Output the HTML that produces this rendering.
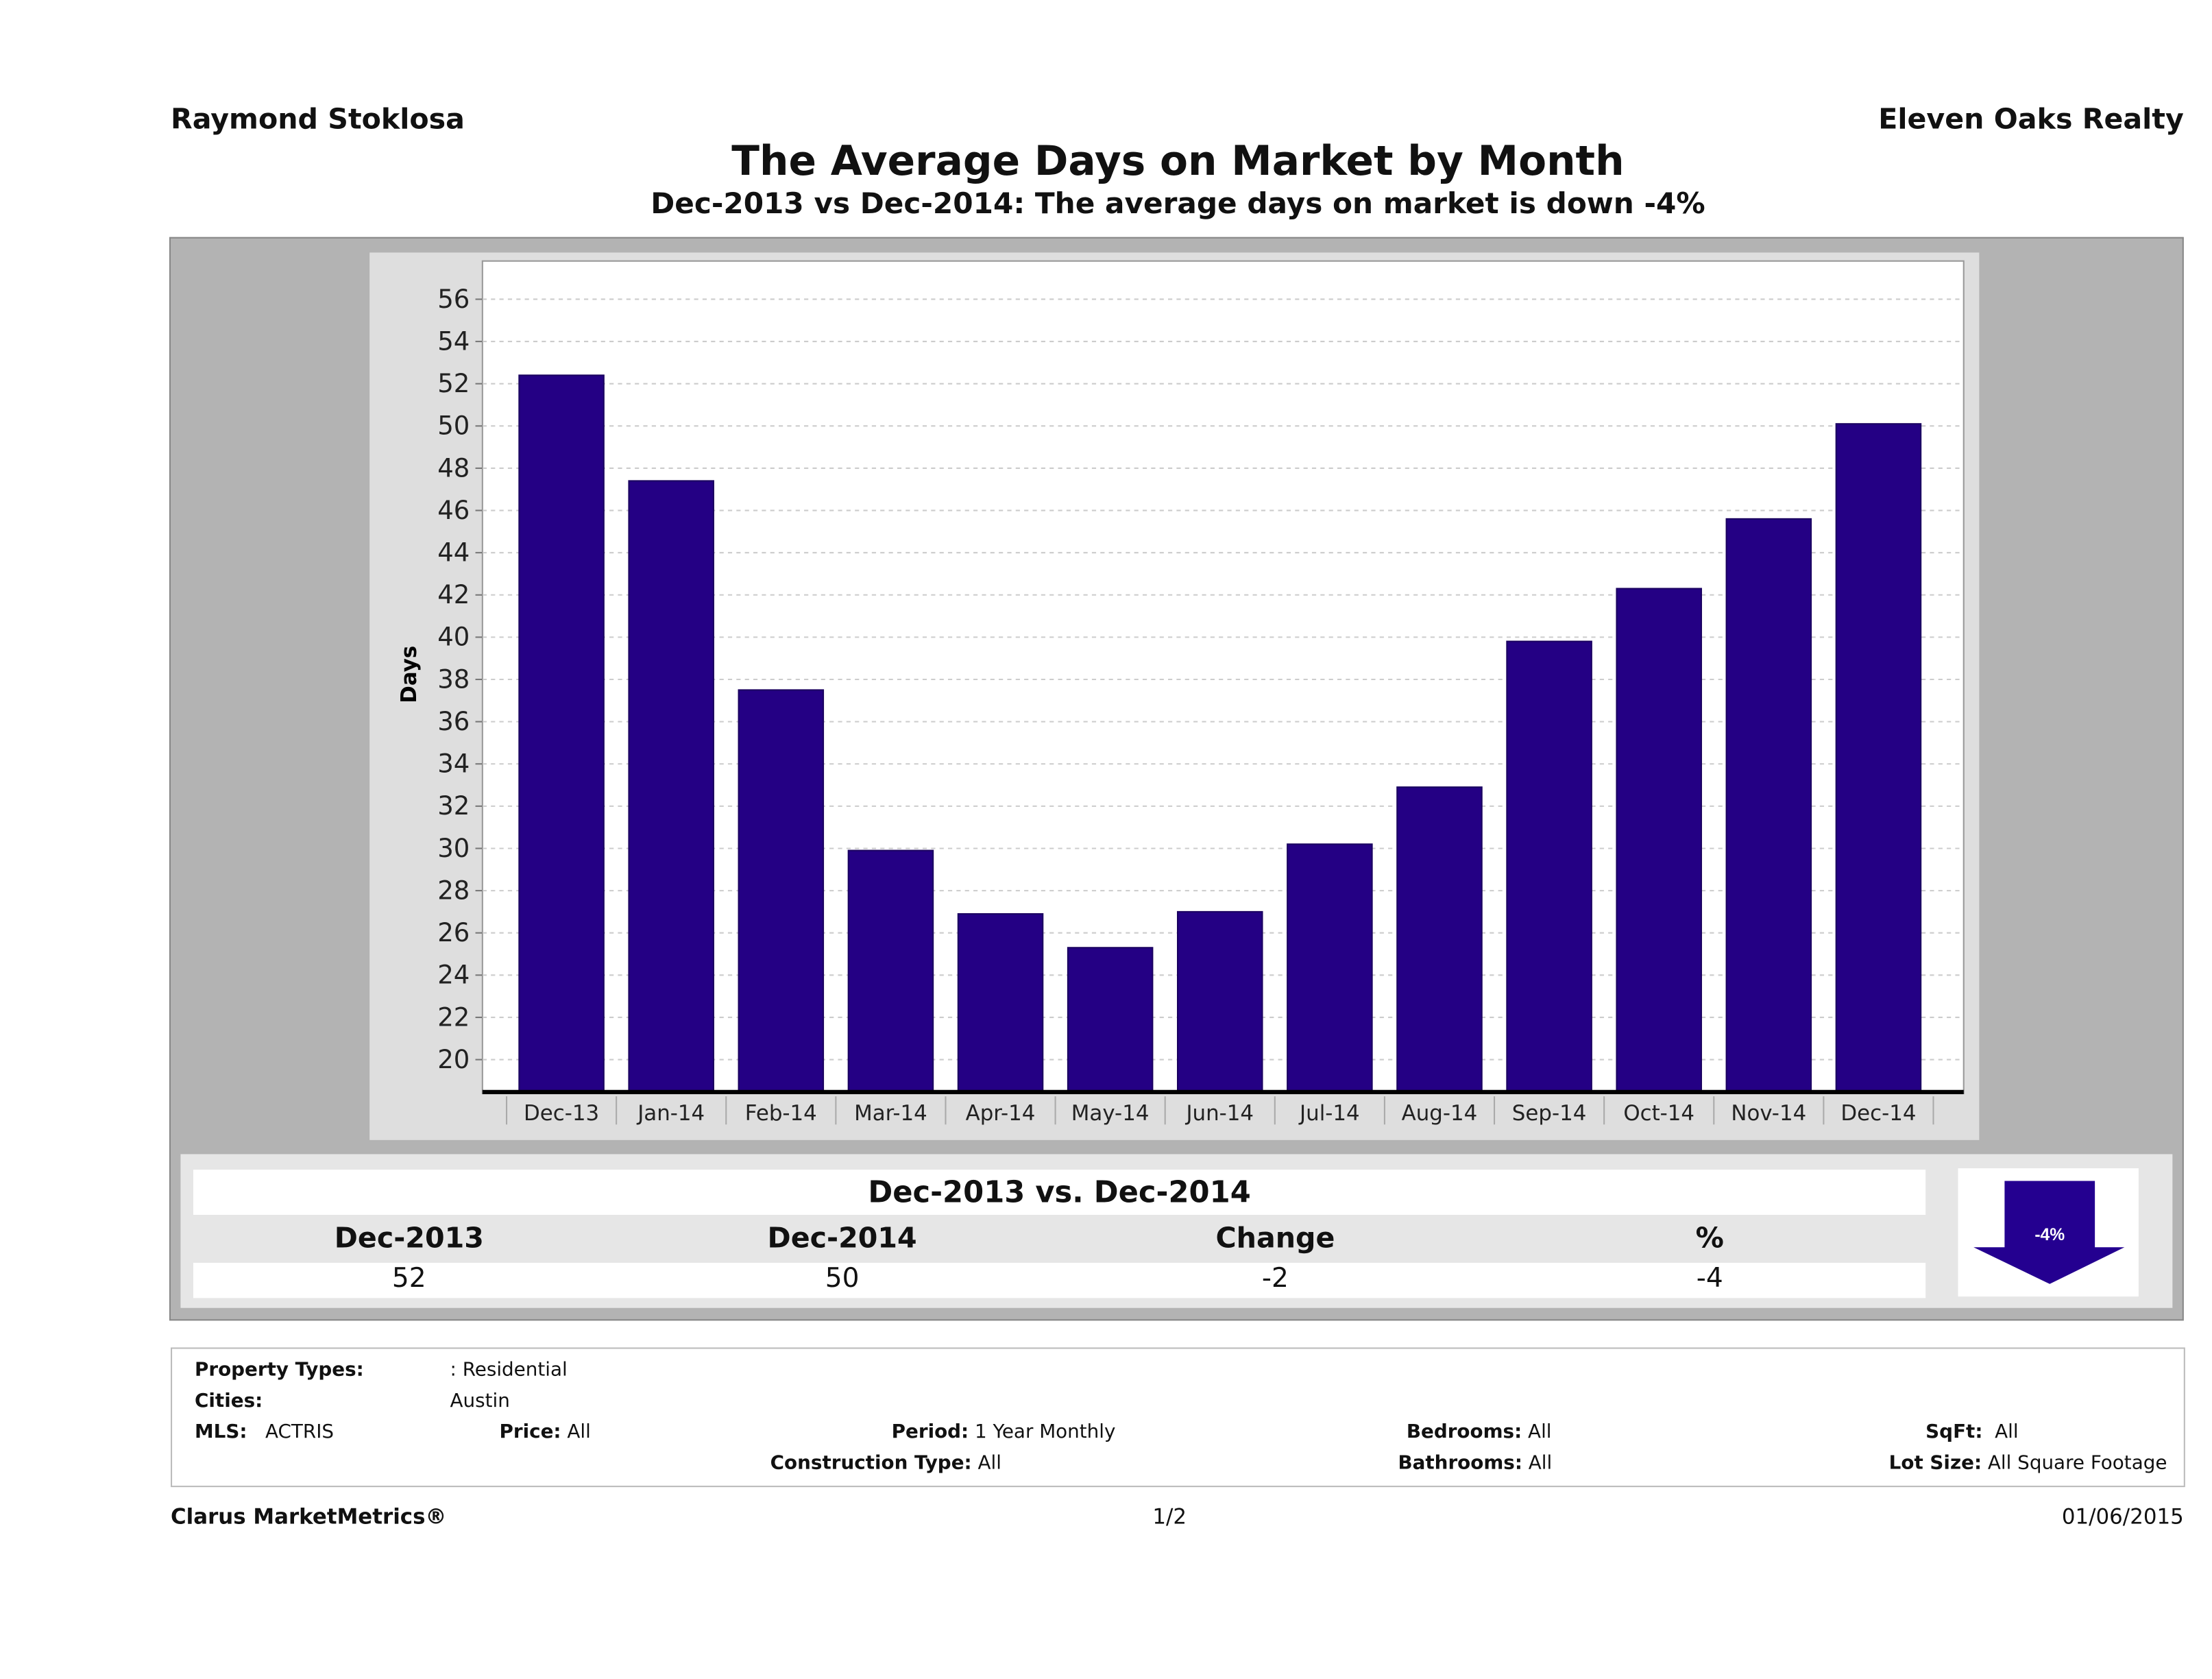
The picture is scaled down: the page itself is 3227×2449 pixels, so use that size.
<!DOCTYPE html>
<html><head><meta charset="utf-8"><style>
html,body{margin:0;padding:0;background:#fff;}
body{width:3227px;height:2448px;overflow:hidden;position:relative;}
#s{position:absolute;left:0;top:0;width:1568px;height:1190px;transform:scale(2.058);transform-origin:0 0;font-family:"DejaVu Sans","Liberation Sans",sans-serif;color:#111;}
.a{position:absolute;white-space:nowrap;}
.b{font-weight:bold;}
</style></head><body><div id="s">
<div class="a b" style="left:121px;top:72px;font-size:20px">Raymond Stoklosa</div>
<div class="a b" style="right:20px;top:72px;font-size:20px">Eleven Oaks Realty</div>
<div class="a b" style="left:0;width:1670px;text-align:center;top:97px;font-size:29px">The Average Days on Market by Month</div>
<div class="a b" style="left:0;width:1670px;text-align:center;top:132px;font-size:20.5px">Dec-2013 vs Dec-2014: The average days on market is down -4%</div>
<div class="a" style="left:120px;top:168px;width:1426px;height:766px;background:#b3b3b3;border:1px solid #888"></div>
<svg class="a" style="left:0;top:0" width="1568" height="1190">
<rect x="262" y="179" width="1141" height="629" fill="#dedede"/>
<rect x="342" y="185" width="1050" height="590" fill="#fff" stroke="#999"/>
<g id="grid"></g><g id="bars"></g><g id="xl"></g>
<text x="295" y="478" transform="rotate(-90 295 478)" font-size="15" font-weight="bold" text-anchor="middle" font-family="DejaVu Sans,sans-serif">Days</text>
<line x1="342" y1="774" x2="1392" y2="774" stroke="#000" stroke-width="3"/>
</svg>
<div class="a" style="left:128px;top:818px;width:1412px;height:109px;background:#e6e6e6"></div>
<div class="a b" style="left:137px;top:829px;width:1228px;height:32px;background:#fff;text-align:center;line-height:32px;font-size:21px">Dec-2013 vs. Dec-2014</div>
<div class="a" style="left:137px;top:895px;width:1228px;height:25px;background:#fff"></div>
<div class="a b" style="left:190px;width:200px;text-align:center;top:865px;font-size:20px">Dec-2013</div>
<div class="a b" style="left:497px;width:200px;text-align:center;top:865px;font-size:20px">Dec-2014</div>
<div class="a b" style="left:804px;width:200px;text-align:center;top:865px;font-size:20px">Change</div>
<div class="a b" style="left:1112px;width:200px;text-align:center;top:865px;font-size:20px">%</div>
<div class="a" style="left:190px;width:200px;text-align:center;top:895px;font-size:19px">52</div>
<div class="a" style="left:497px;width:200px;text-align:center;top:895px;font-size:19px">50</div>
<div class="a" style="left:804px;width:200px;text-align:center;top:895px;font-size:19px">-2</div>
<div class="a" style="left:1112px;width:200px;text-align:center;top:895px;font-size:19px">-4</div>
<svg class="a" style="left:1388px;top:828px" width="128" height="91">
<rect width="128" height="91" fill="#fff"/>
<polygon points="33,9 97,9 97,56 118,56 65,82 11,56 33,56" fill="#240090"/>
<text x="65" y="51" fill="#fff" font-size="12" font-weight="bold" text-anchor="middle" font-family="Liberation Sans,sans-serif">-4%</text>
</svg>
<div class="a" style="left:121px;top:955px;width:1426px;height:97px;border:1px solid #bbb;background:#fff"></div>
<div style="font-size:13.5px">
<div class="a b" style="left:138px;top:963px">Property Types:</div><div class="a" style="left:319px;top:963px">: Residential</div>
<div class="a b" style="left:138px;top:985px">Cities:</div><div class="a" style="left:319px;top:985px">Austin</div>
<div class="a" style="left:138px;top:1007px"><b>MLS:</b>&nbsp;&nbsp; ACTRIS</div>
<div class="a" style="left:354px;top:1007px"><b>Price:</b> All</div>
<div class="a" style="left:632px;top:1007px"><b>Period:</b> 1 Year Monthly</div>
<div class="a" style="left:997px;top:1007px"><b>Bedrooms:</b> All</div>
<div class="a" style="left:1365px;top:1007px"><b>SqFt:</b>&nbsp; All</div>
<div class="a" style="left:546px;top:1029px"><b>Construction Type:</b> All</div>
<div class="a" style="left:991px;top:1029px"><b>Bathrooms:</b> All</div>
<div class="a" style="left:1339px;top:1029px"><b>Lot Size:</b>&nbsp;All Square Footage</div>
</div>
<div class="a b" style="left:121px;top:1066px;font-size:15px">Clarus MarketMetrics®</div>
<div class="a" style="left:817px;top:1066px;font-size:15px">1/2</div>
<div class="a" style="right:20px;top:1066px;font-size:15px">01/06/2015</div>
</div>
<script>
const categories=["Dec-13","Jan-14","Feb-14","Mar-14","Apr-14","May-14","Jun-14","Jul-14","Aug-14","Sep-14","Oct-14","Nov-14","Dec-14"];
const values=[52.4,47.4,37.5,29.9,26.9,25.3,27.0,30.2,32.9,39.8,42.3,45.6,50.1];
const yTicks=[20,22,24,26,28,30,32,34,36,38,40,42,44,46,48,50,52,54,56];
const NS="http://www.w3.org/2000/svg";
function y(v){return 751-(v-20)*14.97;}
function xc(i){return 398+i*77.8;}
function mk(t,a,p){const e=document.createElementNS(NS,t);for(const k in a)e.setAttribute(k,a[k]);p.appendChild(e);return e;}
const g=document.getElementById('grid'),b=document.getElementById('bars'),xl=document.getElementById('xl');
yTicks.forEach(v=>{
 mk('line',{x1:342,x2:1392,y1:y(v),y2:y(v),stroke:'#ccc','stroke-dasharray':'3,3'},g);
 mk('line',{x1:337,x2:342,y1:y(v),y2:y(v),stroke:'#777'},g);
 const t=mk('text',{x:333,y:y(v)+6,'font-size':18,'text-anchor':'end','font-family':'DejaVu Sans,sans-serif',fill:'#222'},g);
 
 
 t.textContent=v;
});
categories.forEach((c,i)=>{
 const r=mk('rect',{x:xc(i)-30,y:y(values[i]),width:60,height:774-y(values[i]),fill:'#240084',stroke:'#1a0060'},b);
 
 
 const t=mk('text',{x:xc(i),y:794,'font-size':15,'text-anchor':'middle','font-family':'DejaVu Sans,sans-serif',fill:'#222'},xl);
 
 
 t.textContent=c;
 mk('line',{x1:xc(i)-38.9,x2:xc(i)-38.9,y1:777,y2:797,stroke:'#aaa'},xl);
});
mk('line',{x1:xc(12)+38.9,x2:xc(12)+38.9,y1:777,y2:797,stroke:'#aaa'},xl);
</script>
</body></html>
